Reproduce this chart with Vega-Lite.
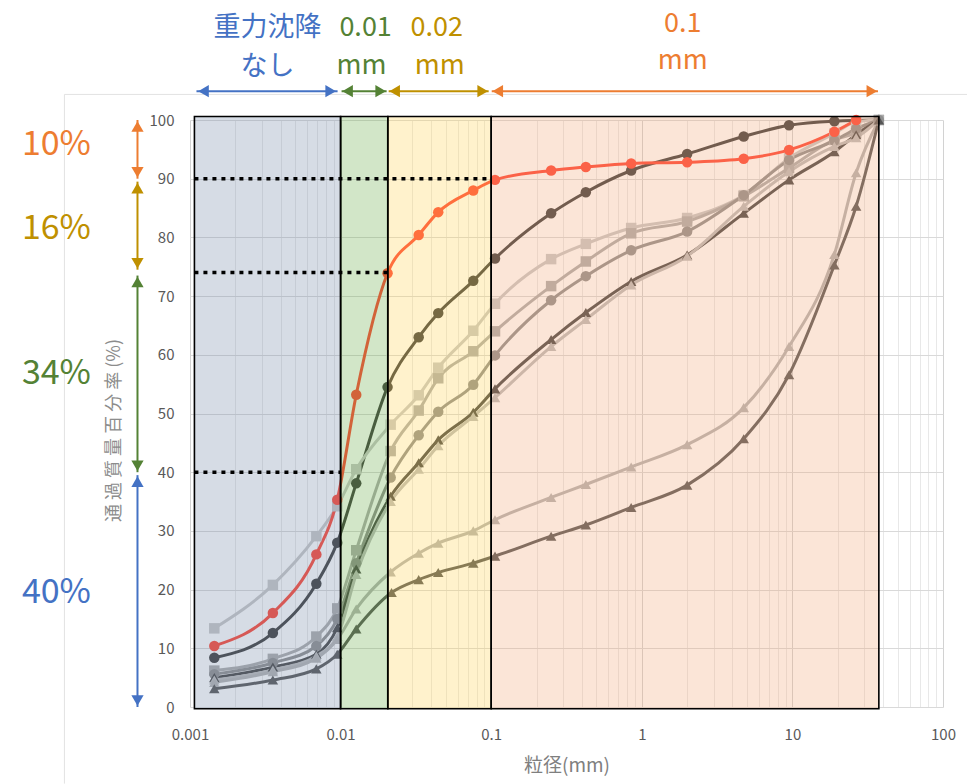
{
  "$schema": "https://vega.github.io/schema/vega-lite/v6.json",
  "width": 753,
  "height": 587,
  "autosize": {"type": "none"},
  "padding": {"left": 190, "top": 120, "right": 24, "bottom": 77},
  "background": "white",
  "config": {"view": {"stroke": null}, "font": "Noto Sans CJK JP"},
  "datasets": {
    "series": [
      {"s":"S2","x":0.00145,"y":8.4},{"s":"S2","x":0.00355,"y":12.6},{"s":"S2","x":0.0069,"y":21.0},{"s":"S2","x":0.0095,"y":28.0},{"s":"S2","x":0.0127,"y":38.1},{"s":"S2","x":0.0205,"y":54.5},{"s":"S2","x":0.033,"y":63.0},{"s":"S2","x":0.0445,"y":67.1},{"s":"S2","x":0.076,"y":72.6},{"s":"S2","x":0.106,"y":76.4},{"s":"S2","x":0.25,"y":84.1},{"s":"S2","x":0.425,"y":87.7},{"s":"S2","x":0.85,"y":91.4},{"s":"S2","x":2,"y":94.2},{"s":"S2","x":4.75,"y":97.2},{"s":"S2","x":9.5,"y":99.1},{"s":"S2","x":19,"y":99.8},{"s":"S2","x":37.5,"y":100},
      {"s":"S3","x":0.00145,"y":13.4},{"s":"S3","x":0.00355,"y":20.8},{"s":"S3","x":0.0069,"y":29.1},{"s":"S3","x":0.0095,"y":34.2},{"s":"S3","x":0.0127,"y":40.5},{"s":"S3","x":0.0215,"y":48.1},{"s":"S3","x":0.033,"y":53.1},{"s":"S3","x":0.0445,"y":57.8},{"s":"S3","x":0.076,"y":64.1},{"s":"S3","x":0.106,"y":68.7},{"s":"S3","x":0.25,"y":76.3},{"s":"S3","x":0.425,"y":78.9},{"s":"S3","x":0.85,"y":81.6},{"s":"S3","x":2,"y":83.3},{"s":"S3","x":4.75,"y":87.2},{"s":"S3","x":9.5,"y":93.5},{"s":"S3","x":19,"y":97.7},{"s":"S3","x":26.5,"y":99.7},{"s":"S3","x":37.5,"y":100},
      {"s":"S4","x":0.00145,"y":6.2},{"s":"S4","x":0.00355,"y":8.2},{"s":"S4","x":0.0069,"y":12.0},{"s":"S4","x":0.0095,"y":16.8},{"s":"S4","x":0.0127,"y":26.7},{"s":"S4","x":0.0215,"y":43.6},{"s":"S4","x":0.033,"y":50.5},{"s":"S4","x":0.0445,"y":56.0},{"s":"S4","x":0.076,"y":60.6},{"s":"S4","x":0.106,"y":64.0},{"s":"S4","x":0.25,"y":71.7},{"s":"S4","x":0.425,"y":75.9},{"s":"S4","x":0.85,"y":80.7},{"s":"S4","x":2,"y":82.7},{"s":"S4","x":4.75,"y":87.0},{"s":"S4","x":9.5,"y":91.8},{"s":"S4","x":19,"y":96.6},{"s":"S4","x":26.5,"y":97.8},{"s":"S4","x":37.5,"y":100},
      {"s":"S5","x":0.00145,"y":5.6},{"s":"S5","x":0.00355,"y":7.5},{"s":"S5","x":0.0069,"y":10.4},{"s":"S5","x":0.0095,"y":15.0},{"s":"S5","x":0.0127,"y":24.5},{"s":"S5","x":0.0215,"y":39.1},{"s":"S5","x":0.033,"y":46.3},{"s":"S5","x":0.0445,"y":50.3},{"s":"S5","x":0.076,"y":54.9},{"s":"S5","x":0.106,"y":59.9},{"s":"S5","x":0.25,"y":69.3},{"s":"S5","x":0.425,"y":73.4},{"s":"S5","x":0.85,"y":77.8},{"s":"S5","x":2,"y":81.0},{"s":"S5","x":4.75,"y":87.2},{"s":"S5","x":9.5,"y":93.2},{"s":"S5","x":19,"y":96.5},{"s":"S5","x":26.5,"y":98.5},{"s":"S5","x":37.5,"y":100},
      {"s":"S6","x":0.00145,"y":5.0},{"s":"S6","x":0.00355,"y":6.8},{"s":"S6","x":0.0069,"y":9.0},{"s":"S6","x":0.0095,"y":13.5},{"s":"S6","x":0.0127,"y":23.5},{"s":"S6","x":0.0215,"y":35.9},{"s":"S6","x":0.033,"y":41.6},{"s":"S6","x":0.0445,"y":45.5},{"s":"S6","x":0.076,"y":50.2},{"s":"S6","x":0.106,"y":54.2},{"s":"S6","x":0.25,"y":62.6},{"s":"S6","x":0.425,"y":67.2},{"s":"S6","x":0.85,"y":72.5},{"s":"S6","x":2,"y":77.0},{"s":"S6","x":4.75,"y":84.1},{"s":"S6","x":9.5,"y":89.8},{"s":"S6","x":19,"y":94.6},{"s":"S6","x":26.5,"y":97.5},{"s":"S6","x":37.5,"y":100},
      {"s":"S7","x":0.00145,"y":4.6},{"s":"S7","x":0.00355,"y":6.3},{"s":"S7","x":0.0069,"y":8.7},{"s":"S7","x":0.0095,"y":12.0},{"s":"S7","x":0.0127,"y":22.6},{"s":"S7","x":0.0215,"y":35.0},{"s":"S7","x":0.033,"y":40.5},{"s":"S7","x":0.0445,"y":44.5},{"s":"S7","x":0.076,"y":49.5},{"s":"S7","x":0.106,"y":52.7},{"s":"S7","x":0.25,"y":61.4},{"s":"S7","x":0.425,"y":66.0},{"s":"S7","x":0.85,"y":71.9},{"s":"S7","x":2,"y":76.8},{"s":"S7","x":4.75,"y":85.3},{"s":"S7","x":9.5,"y":91.2},{"s":"S7","x":19,"y":95.5},{"s":"S7","x":26.5,"y":97.0},{"s":"S7","x":37.5,"y":100},
      {"s":"S8","x":0.00145,"y":4.2},{"s":"S8","x":0.00355,"y":6.0},{"s":"S8","x":0.0069,"y":8.3},{"s":"S8","x":0.0095,"y":11.5},{"s":"S8","x":0.0127,"y":16.7},{"s":"S8","x":0.0215,"y":23.0},{"s":"S8","x":0.033,"y":26.2},{"s":"S8","x":0.0445,"y":27.9},{"s":"S8","x":0.076,"y":30.0},{"s":"S8","x":0.106,"y":31.9},{"s":"S8","x":0.25,"y":35.7},{"s":"S8","x":0.425,"y":37.9},{"s":"S8","x":0.85,"y":40.9},{"s":"S8","x":2,"y":44.7},{"s":"S8","x":4.75,"y":51.0},{"s":"S8","x":9.5,"y":61.4},{"s":"S8","x":19,"y":77.1},{"s":"S8","x":26.5,"y":91.0},{"s":"S8","x":37.5,"y":100},
      {"s":"S9","x":0.00145,"y":3.1},{"s":"S9","x":0.00355,"y":4.6},{"s":"S9","x":0.0069,"y":6.5},{"s":"S9","x":0.0095,"y":9.0},{"s":"S9","x":0.0127,"y":13.3},{"s":"S9","x":0.0218,"y":19.5},{"s":"S9","x":0.033,"y":21.7},{"s":"S9","x":0.0445,"y":22.9},{"s":"S9","x":0.076,"y":24.5},{"s":"S9","x":0.106,"y":25.7},{"s":"S9","x":0.25,"y":29.1},{"s":"S9","x":0.425,"y":31.0},{"s":"S9","x":0.85,"y":34.0},{"s":"S9","x":2,"y":37.8},{"s":"S9","x":4.75,"y":45.7},{"s":"S9","x":9.5,"y":56.6},{"s":"S9","x":19,"y":75.3},{"s":"S9","x":26.5,"y":85.3},{"s":"S9","x":37.5,"y":100},
      {"s":"S1","x":0.00145,"y":10.4},{"s":"S1","x":0.00355,"y":16.0},{"s":"S1","x":0.0069,"y":26.0},{"s":"S1","x":0.0095,"y":35.3},{"s":"S1","x":0.0127,"y":53.2},{"s":"S1","x":0.0205,"y":73.9},{"s":"S1","x":0.033,"y":80.4},{"s":"S1","x":0.0445,"y":84.3},{"s":"S1","x":0.076,"y":88.0},{"s":"S1","x":0.106,"y":89.8},{"s":"S1","x":0.25,"y":91.4},{"s":"S1","x":0.425,"y":92.0},{"s":"S1","x":0.85,"y":92.6},{"s":"S1","x":2,"y":92.8},{"s":"S1","x":4.75,"y":93.4},{"s":"S1","x":9.5,"y":94.9},{"s":"S1","x":19,"y":98.0},{"s":"S1","x":26.5,"y":100}
    ],
    "regions": [
      {"r":"none","x":0.00107,"x2":0.01,"y":-0.3,"y2":100.6},
      {"r":"0.01","x":0.01,"x2":0.0206,"y":-0.3,"y2":100.6},
      {"r":"0.02","x":0.0206,"x2":0.1,"y":-0.3,"y2":100.6},
      {"r":"0.1","x":0.1,"x2":37.5,"y":-0.3,"y2":100.6}
    ],
    "dotted": [
      {"x":0.00107,"x2":0.1,"y":90},
      {"x":0.00107,"x2":0.0206,"y":74},
      {"x":0.00107,"x2":0.01,"y":40}
    ],
    "outlineH": [{"x":0.0001466,"x2":144.4,"y":104.36}],
    "outlineV": [{"x":0.0001466,"y":104.36,"y2":-13.05}],
    "arrowsH": [
      {"g":"none","x":0.001104,"x2":0.00955,"y":104.9},
      {"g":"0.01","x":0.01015,"x2":0.02021,"y":104.9},
      {"g":"0.02","x":0.02085,"x2":0.0962,"y":104.9},
      {"g":"0.1","x":0.1008,"x2":37.0,"y":104.9}
    ],
    "arrowsV": [
      {"g":"0.1","x":0.000448,"y":100,"y2":90},
      {"g":"0.02","x":0.000448,"y":89.5,"y2":74.5},
      {"g":"0.01","x":0.000448,"y":73.5,"y2":40},
      {"g":"none","x":0.000448,"y":39.5,"y2":0}
    ],
    "heads": [
      {"g":"none","d":"left","x":0.00123,"y":104.9},{"g":"none","d":"right","x":0.00859,"y":104.9},
      {"g":"0.01","d":"left","x":0.01113,"y":104.9},{"g":"0.01","d":"right","x":0.01845,"y":104.9},
      {"g":"0.02","d":"left","x":0.02285,"y":104.9},{"g":"0.02","d":"right","x":0.0878,"y":104.9},
      {"g":"0.1","d":"left","x":0.1105,"y":104.9},{"g":"0.1","d":"right","x":33.7,"y":104.9},
      {"g":"0.1","d":"up","x":0.000448,"y":98.9},{"g":"0.1","d":"down","x":0.000448,"y":91.1},
      {"g":"0.02","d":"up","x":0.000448,"y":88.4},{"g":"0.02","d":"down","x":0.000448,"y":75.6},
      {"g":"0.01","d":"up","x":0.000448,"y":72.4},{"g":"0.01","d":"down","x":0.000448,"y":41.1},
      {"g":"none","d":"up","x":0.000448,"y":38.4},{"g":"none","d":"down","x":0.000448,"y":1.1}
    ],
    "topText": [
      {"g":"none","t":"重力沈降","x":0.003273,"y":115.6},
      {"g":"none","t":"なし","x":0.003273,"y":109.0},
      {"g":"0.01","t":"0.01","x":0.01466,"y":115.6},
      {"g":"0.01","t":"mm","x":0.01379,"y":109.2},
      {"g":"0.02","t":"0.02","x":0.04344,"y":115.6},
      {"g":"0.02","t":"mm","x":0.04548,"y":109.2},
      {"g":"0.1","t":"0.1","x":1.873,"y":116.4},
      {"g":"0.1","t":"mm","x":1.873,"y":110.1}
    ],
    "leftText": [
      {"g":"0.1","t":"10%","x":0.0001297,"y":95.75},
      {"g":"0.02","t":"16%","x":0.0001297,"y":81.4},
      {"g":"0.01","t":"34%","x":0.0001297,"y":56.7},
      {"g":"none","t":"40%","x":0.0001297,"y":19.5}
    ]
  },
  "encoding": {
    "x": {
      "field": "x", "type": "quantitative",
      "scale": {"type": "log", "domain": [0.001, 100], "nice": false},
      "axis": {
        "values": [0.001,0.002,0.003,0.004,0.005,0.006,0.007,0.008,0.009,0.01,0.02,0.03,0.04,0.05,0.06,0.07,0.08,0.09,0.1,0.2,0.3,0.4,0.5,0.6,0.7,0.8,0.9,1,2,3,4,5,6,7,8,9,10,20,30,40,50,60,70,80,90,100],
        "labelExpr": "indexof([0.001,0.01,0.1,1,10,100], datum.value) >= 0 ? format(datum.value, '~g') : ''",
        "labelOverlap": false, "labelFlush": false,
        "labelFontSize": 15, "labelColor": "#595959", "labelPadding": 20,
        "ticks": false, "domain": false,
        "grid": true,
        "gridColor": {"condition": {"test": "indexof([0.001,0.01,0.1,1,10,100], datum.value) >= 0", "value": "#d2d2d2"}, "value": "#e8e8e8"},
        "title": "粒径(mm)", "titleFontSize": 19, "titleFontWeight": "normal", "titleColor": "#7f7f7f", "titlePadding": 14
      }
    },
    "y": {
      "field": "y", "type": "quantitative",
      "scale": {"domain": [0, 100], "nice": false},
      "axis": {
        "values": [0,10,20,30,40,50,60,70,80,90,100],
        "labelFontSize": 15, "labelColor": "#595959", "labelPadding": 16, "labelFlush": false,
        "ticks": false, "domain": false,
        "grid": true, "gridColor": "#d9d9d9",
        "title": "通 過 質 量 百 分 率 (%)", "titleFontSize": 18, "titleFontWeight": "normal", "titleColor": "#8c8c8c", "titlePadding": 26, "titleY": 310
      }
    }
  },
  "layer": [
    {"data": {"name": "outlineH"}, "mark": {"type": "rule", "color": "#e2e2e2", "strokeWidth": 1, "clip": false}, "encoding": {"x2": {"field": "x2"}}},
    {"data": {"name": "outlineV"}, "mark": {"type": "rule", "color": "#e2e2e2", "strokeWidth": 1, "clip": false}, "encoding": {"y2": {"field": "y2"}}},
    {
      "data": {"name": "series"},
      "mark": {"type": "line", "strokeWidth": 3, "interpolate": "monotone"},
      "encoding": {
        "color": {"field": "s", "type": "nominal", "legend": null,
          "scale": {"domain": ["S1","S2","S3","S4","S5","S6","S7","S8","S9"], "range": ["#ff4433","#3b3b3b","#c8c8c8","#adadad","#8f8f8f","#454545","#bcbcbc","#b4b4b4","#555555"]}}
      }
    },
    {
      "data": {"name": "series"},
      "mark": {"type": "point", "filled": true, "size": 110, "opacity": 1},
      "encoding": {
        "color": {"field": "s", "type": "nominal", "legend": null,
          "scale": {"domain": ["S1","S2","S3","S4","S5","S6","S7","S8","S9"], "range": ["#ff4433","#3b3b3b","#c8c8c8","#adadad","#8f8f8f","#454545","#bcbcbc","#b4b4b4","#555555"]}},
        "shape": {"field": "s", "type": "nominal", "legend": null,
          "scale": {"domain": ["S1","S2","S3","S4","S5","S6","S7","S8","S9"], "range": ["circle","circle","square","square","circle","triangle-up","triangle-up","triangle-up","triangle-up"]}}
      }
    },
    {
      "data": {"name": "regions"},
      "mark": {"type": "rect", "fillOpacity": 0.3, "stroke": "black", "strokeWidth": 1.6},
      "encoding": {
        "x2": {"field": "x2"}, "y2": {"field": "y2"},
        "fill": {"field": "r", "type": "nominal", "legend": null,
          "scale": {"domain": ["none","0.01","0.02","0.1"], "range": ["#768aa8","#69ac48","#ffd455","#f2a87a"]}}
      }
    },
    {"data": {"name": "dotted"}, "mark": {"type": "rule", "color": "black", "strokeWidth": 3.5, "strokeDash": [4, 5]}, "encoding": {"x2": {"field": "x2"}}},
    {
      "data": {"name": "arrowsH"},
      "mark": {"type": "rule", "strokeWidth": 2, "clip": false},
      "encoding": {"x2": {"field": "x2"},
        "color": {"field": "g", "type": "nominal", "legend": null, "scale": {"domain": ["none","0.01","0.02","0.1"], "range": ["#4472c4","#548235","#bf9000","#ed7d31"]}}}
    },
    {
      "data": {"name": "arrowsV"},
      "mark": {"type": "rule", "strokeWidth": 2, "clip": false},
      "encoding": {"y2": {"field": "y2"},
        "color": {"field": "g", "type": "nominal", "legend": null, "scale": {"domain": ["none","0.01","0.02","0.1"], "range": ["#4472c4","#548235","#bf9000","#ed7d31"]}}}
    },
    {
      "data": {"name": "heads"},
      "mark": {"type": "point", "filled": true, "size": 150, "opacity": 1, "clip": false},
      "encoding": {
        "color": {"field": "g", "type": "nominal", "legend": null, "scale": {"domain": ["none","0.01","0.02","0.1"], "range": ["#4472c4","#548235","#bf9000","#ed7d31"]}},
        "shape": {"field": "d", "type": "nominal", "legend": null, "scale": {"domain": ["left","right","up","down"], "range": ["triangle-left","triangle-right","triangle-up","triangle-down"]}}
      }
    },
    {
      "data": {"name": "topText"},
      "mark": {"type": "text", "fontSize": 27, "align": "center", "baseline": "middle", "clip": false},
      "encoding": {"text": {"field": "t"},
        "color": {"field": "g", "type": "nominal", "legend": null, "scale": {"domain": ["none","0.01","0.02","0.1"], "range": ["#4472c4","#548235","#bf9000","#ed7d31"]}}}
    },
    {
      "data": {"name": "leftText"},
      "mark": {"type": "text", "fontSize": 34, "align": "center", "baseline": "middle", "clip": false},
      "encoding": {"text": {"field": "t"},
        "color": {"field": "g", "type": "nominal", "legend": null, "scale": {"domain": ["none","0.01","0.02","0.1"], "range": ["#4472c4","#548235","#bf9000","#ed7d31"]}}}
    }
  ],
  "resolve": {"scale": {"color": "independent", "shape": "independent", "fill": "independent"}}
}
